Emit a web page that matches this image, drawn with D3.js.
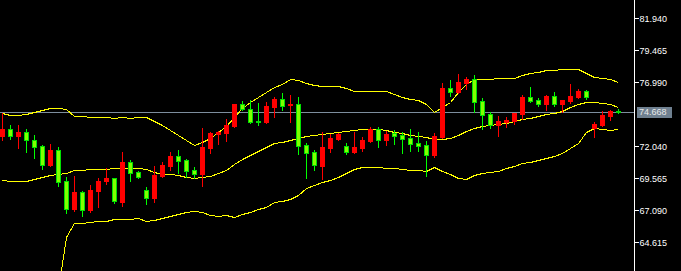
<!DOCTYPE html>
<html>
<head>
<meta charset="utf-8">
<script src="https://cdn.jsdelivr.net/npm/d3@7"></script>
<style>
  body { margin: 0; background: #000; }
  svg { display: block; }
</style>
</head>
<body>
<svg id="chart" width="681" height="271"></svg>
<script>
// candles (red = up, green = down)
var open = [72.84,73.38,72.84,73.17,72.55,72.06,70.59,71.78,69.38,67.21,
  68.48,67.14,68.61,69.38,69.59,67.76,70.83,70.03,68.66,68.07,
  69.77,70.54,71.29,70.98,70.21,69.92,71.93,73.01,73.07,73.63,
  75.31,74.90,74.00,73.92,75.08,75.70,75.21,75.31,72.14,71.60,
  70.54,71.91,72.60,72.06,71.62,71.91,72.47,73.38,72.55,73.07,
  72.91,72.68,72.30,72.14,71.39,72.76,76.55,76.24,76.94,77.25,
  75.54,74.54,73.71,73.90,74.00,74.56,75.85,75.62,75.34,75.93,
  75.34,75.57,75.85,76.32,73.46,73.69,74.41,74.77];
var high = [74.59,73.69,73.69,73.38,72.91,72.14,72.22,71.99,69.64,69.77,
  68.58,69.05,69.61,70.39,69.61,71.62,70.98,70.11,68.89,70.52,
  70.83,71.60,71.75,71.06,70.44,73.46,73.17,73.22,74.15,75.31,
  75.54,75.60,75.39,75.47,75.85,76.16,76.01,75.85,72.30,71.75,
  73.15,72.99,73.07,72.30,73.15,72.76,73.53,73.53,73.22,73.30,
  73.17,73.38,73.15,72.47,73.07,76.94,77.17,77.63,77.40,77.55,
  75.78,74.69,74.38,74.31,74.62,76.01,76.63,75.78,76.01,76.24,
  75.62,76.86,76.47,76.39,73.92,74.77,74.85,74.93];
var low = [72.53,72.60,71.93,71.62,71.16,70.31,70.52,68.99,66.91,67.04,
  66.67,66.98,67.37,69.15,67.68,67.45,69.36,69.59,67.58,67.76,
  69.69,70.23,70.00,69.67,69.59,68.97,71.55,72.24,72.47,73.53,
  74.85,73.84,73.71,73.87,74.31,74.85,73.92,71.47,69.61,70.23,
  69.51,71.62,72.53,71.47,71.55,71.70,72.40,71.99,72.16,72.24,
  71.55,71.70,71.70,69.77,71.24,72.71,75.95,76.16,76.47,74.69,
  73.40,73.48,72.86,73.53,73.79,74.15,75.47,75.18,74.87,75.18,
  74.72,75.41,75.80,75.70,72.76,73.63,74.07,74.64];
var close = [73.38,72.86,73.17,72.55,72.01,70.62,71.78,69.30,67.21,68.53,
  67.14,68.66,69.36,69.61,67.83,70.83,70.00,69.69,68.07,69.82,
  70.59,71.29,70.93,70.15,69.92,71.99,73.07,73.17,73.69,75.31,
  74.90,73.92,73.92,75.16,75.70,75.18,75.31,72.09,71.55,70.57,
  71.99,72.68,72.99,71.62,71.99,72.53,73.38,72.53,72.99,72.86,
  72.60,72.24,72.09,71.39,72.84,76.57,76.24,77.01,77.25,75.49,
  74.48,73.71,74.00,74.07,74.62,75.85,75.57,75.34,75.93,75.34,
  75.62,75.93,76.32,75.88,73.77,74.46,74.77,74.668];

// bollinger bands
var upper = [74.64,74.46,74.46,74.54,74.72,74.87,75.03,75.03,74.90,74.36,
  74.36,74.28,74.28,74.28,74.21,74.28,74.21,74.28,74.28,73.97,
  73.66,73.30,72.91,72.53,72.14,72.37,72.71,73.15,73.61,74.33,
  74.98,75.43,75.83,76.22,76.59,76.86,77.21,77.14,76.90,76.76,
  76.68,76.68,76.68,76.55,76.32,76.29,76.29,76.29,76.29,76.06,
  75.85,75.72,75.60,75.29,74.72,75.10,75.49,76.24,76.86,77.22,
  77.25,77.25,77.30,77.30,77.30,77.53,77.69,77.76,77.92,77.92,
  78.00,78.00,78.00,77.69,77.42,77.35,77.22,76.99];
var middle = [69.41,69.36,69.36,69.36,69.53,69.69,69.80,69.87,70.00,70.18,
  70.21,70.26,70.26,70.28,70.34,70.34,70.34,70.34,70.26,70.09,
  69.90,69.87,69.82,69.69,69.59,69.67,69.77,69.95,70.21,70.67,
  71.06,71.37,71.70,72.01,72.27,72.40,72.53,72.66,72.84,72.89,
  73.01,73.07,73.12,73.20,73.32,73.36,73.36,73.36,73.30,73.17,
  73.05,72.94,72.84,72.74,72.63,72.63,72.66,72.95,73.22,73.48,
  73.61,73.69,73.74,73.87,73.97,74.13,74.23,74.38,74.54,74.64,
  74.79,75.06,75.29,75.44,75.44,75.37,75.29,75.10];
var lower = [60.5,60.4,60.4,60.5,60.6,60.7,60.8,61.0,65.03,66.07,
  66.09,66.16,66.24,66.24,66.39,66.39,66.39,66.47,66.29,66.34,
  66.50,66.65,66.80,66.94,67.04,66.96,66.73,66.63,66.73,66.60,
  66.80,66.98,67.17,67.37,67.71,67.81,67.94,68.27,68.84,69.05,
  69.26,69.41,69.67,69.98,70.28,70.42,70.42,70.42,70.36,70.34,
  70.31,70.23,70.18,70.13,70.42,70.15,69.90,69.59,69.49,69.82,
  69.95,70.03,70.13,70.34,70.52,70.73,70.83,70.98,71.14,71.29,
  71.55,71.89,72.32,73.17,73.43,73.36,73.28,73.36];

var priceTicks = [81.940, 79.465, 76.990, 72.040, 69.565, 67.090, 64.615];
var lastPrice = 74.668;

var svg = d3.select("#chart"),
    width = 681,
    height = 271,
    axisX = 634;

svg.append("rect").attr("width", width).attr("height", height).attr("fill", "#000");

var x = d3.scaleLinear().domain([0, open.length - 1]).range([2, 618]);
var y = d3.scaleLinear().domain([64.615, 81.94]).range([242.3, 18.3]);

svg.append("clipPath").attr("id", "plot")
  .append("rect").attr("x", 0).attr("y", 0).attr("width", axisX).attr("height", height);

var plot = svg.append("g").attr("clip-path", "url(#plot)");

// last price line
plot.append("line")
  .attr("x1", 0).attr("x2", axisX)
  .attr("y1", Math.round(y(lastPrice)) + 0.5).attr("y2", Math.round(y(lastPrice)) + 0.5)
  .attr("stroke", "#7d8d9d").attr("stroke-width", 1);

// bands
var band = function(arr){
  return d3.line()
    .x(function(d, i){ return x(i) + 0.5; })
    .y(function(d){ return Math.round(y(d)) + 0.5; })(arr);
};
[upper, middle, lower].forEach(function(arr){
  plot.append("path")
    .attr("d", band(arr))
    .attr("fill", "none")
    .attr("stroke", "#ffff00")
    .attr("stroke-width", 1)
    .attr("shape-rendering", "crispEdges");
});

var candles = d3.range(open.length).map(function(i){
  return {i: i, o: open[i], h: high[i], l: low[i], c: close[i]};
});
var isUp = function(d){ return d.c >= d.o; };

var g = plot.append("g").attr("shape-rendering", "crispEdges")
  .selectAll("g").data(candles).enter().append("g");

g.append("line")
  .attr("x1", function(d){ return Math.round(x(d.i)) + 0.5; })
  .attr("x2", function(d){ return Math.round(x(d.i)) + 0.5; })
  .attr("y1", function(d){ return Math.round(y(d.h)); })
  .attr("y2", function(d){ return Math.round(y(d.l)) + 1; })
  .attr("stroke", function(d){ return isUp(d) ? "#ff0000" : "#00ff00"; })
  .attr("stroke-width", 1);

g.append("rect")
  .attr("x", function(d){ return Math.round(x(d.i)) - 2 + 0.5; })
  .attr("y", function(d){ return Math.round(y(Math.max(d.o, d.c))) + 0.5; })
  .attr("width", 4)
  .attr("height", function(d){
    return Math.max(0, Math.round(y(Math.min(d.o, d.c))) - Math.round(y(Math.max(d.o, d.c))));
  })
  .attr("fill", function(d){ return isUp(d) ? "#ff0000" : "#80ff00"; })
  .attr("stroke", function(d){ return isUp(d) ? "#ff0000" : "#00e000"; })
  .attr("stroke-width", 1);

// price axis
svg.append("line")
  .attr("x1", axisX + 0.5).attr("x2", axisX + 0.5)
  .attr("y1", 0).attr("y2", height)
  .attr("stroke", "#fff").attr("stroke-width", 1);

var axis = svg.append("g")
  .attr("transform", "translate(" + (axisX + 0.5) + ",0)")
  .call(d3.axisRight(y).tickValues(priceTicks).tickSize(4).tickPadding(1)
    .tickFormat(d3.format(".3f")));
axis.select(".domain").remove();
axis.selectAll(".tick line").attr("stroke", "#fff").attr("shape-rendering", "crispEdges");
axis.selectAll(".tick text")
  .attr("fill", "#fff")
  .style("font-family", "Liberation Sans, Arial, sans-serif")
  .style("font-size", "9px");

// last price tag
var ly = Math.round(y(lastPrice));
svg.append("rect")
  .attr("x", 637).attr("y", ly - 5)
  .attr("width", 35).attr("height", 11)
  .attr("fill", "#6f8090");
svg.append("text")
  .attr("x", 639).attr("y", ly + 0.5)
  .attr("dy", "0.32em")
  .attr("fill", "#e8e8e8")
  .style("font-family", "Liberation Sans, Arial, sans-serif")
  .style("font-size", "9px")
  .text(d3.format(".3f")(lastPrice));
</script>
</body>
</html>
